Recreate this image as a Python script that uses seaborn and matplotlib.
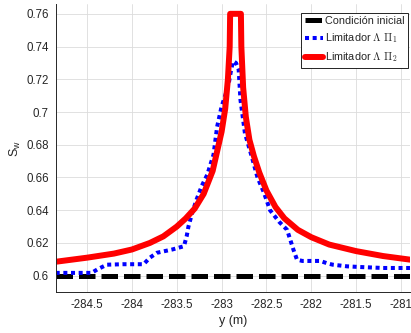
import matplotlib
matplotlib.use("Agg")
import matplotlib.pyplot as plt
import seaborn as sns
import pandas as pd

# ---- data ----
y_init = [-284.85, -280.9]
sw_init = [0.6, 0.6]

y_pi1 = [-284.85, -284.45, -284.38, -284.28, -284.1, -283.87, -283.8, -283.72,
         -283.55, -283.42, -283.39, -283.37, -283.33, -283.28, -283.22, -283.16,
         -283.09, -283.05, -283.0, -282.96, -282.92, -282.89, -282.87, -282.84,
         -282.81, -282.79, -282.74, -282.66, -282.6, -282.53, -282.46, -282.36,
         -282.27, -282.2, -282.16, -282.1, -281.9, -281.82, -281.76, -281.6,
         -281.46, -281.2, -280.9]
sw_pi1 = [0.6017, 0.6017, 0.604, 0.6067, 0.607, 0.607, 0.611, 0.614,
          0.616, 0.618, 0.624, 0.630, 0.638, 0.6464, 0.655, 0.6617,
          0.674, 0.691, 0.7034, 0.710, 0.7177, 0.727, 0.731, 0.730,
          0.726, 0.7075, 0.687, 0.672, 0.660, 0.651, 0.640, 0.633,
          0.628, 0.616, 0.6098, 0.609, 0.609, 0.6075, 0.6067, 0.6057,
          0.6053, 0.6047, 0.6047]

y_pi2 = [-284.85, -284.5, -284.2, -284.0, -283.8, -283.65, -283.5, -283.4,
         -283.3, -283.2, -283.1, -283.05, -283.0, -282.96, -282.93, -282.91,
         -282.905, -282.785, -282.78, -282.76, -282.73, -282.69, -282.64,
         -282.58, -282.5, -282.4, -282.3, -282.15, -282.0, -281.8, -281.5,
         -281.2, -280.9]
sw_pi2 = [0.6085, 0.611, 0.6135, 0.616, 0.620, 0.624, 0.630, 0.635,
          0.641, 0.650, 0.664, 0.676, 0.688, 0.702, 0.720, 0.740,
          0.760, 0.760, 0.740, 0.715, 0.697, 0.683, 0.673,
          0.663, 0.652, 0.642, 0.635, 0.628, 0.6235, 0.619, 0.615,
          0.612, 0.6098]

labels = ["Condición inicial", r"Limitador $\Lambda\ \Pi_1$", r"Limitador $\Lambda\ \Pi_2$"]
x_ticks = [-284.5, -284, -283.5, -283, -282.5, -282, -281.5, -281]
x_ticklabels = ["-284.5", "-284", "-283.5", "-283", "-282.5", "-282", "-281.5", "-281"]
y_ticks = [0.6, 0.62, 0.64, 0.66, 0.68, 0.7, 0.72, 0.74, 0.76]
y_ticklabels = ["0.6", "0.62", "0.64", "0.66", "0.68", "0.7", "0.72", "0.74", "0.76"]

sns.set_style("whitegrid")
plt.rcParams['font.family'] = ['Liberation Sans', 'DejaVu Sans']
plt.rcParams['mathtext.fontset'] = 'cm'

fig = plt.figure(figsize=(4.11, 3.33), dpi=100)
ax = fig.add_axes([0.1355, 0.123, 0.862, 0.865])

df0 = pd.DataFrame({"y": y_init, "sw": sw_init})
df1 = pd.DataFrame({"y": y_pi1, "sw": sw_pi1})
df2 = pd.DataFrame({"y": y_pi2, "sw": sw_pi2})

sns.lineplot(data=df0, x="y", y="sw", ax=ax, color="black", lw=3.6,
             linestyle=(0, (3.3, 1.2)), label=labels[0], estimator=None, sort=False)
sns.lineplot(data=df1, x="y", y="sw", ax=ax, color="blue", lw=2.9,
             linestyle=(0, (1, 0.9)), label=labels[1], estimator=None, sort=False)
sns.lineplot(data=df2, x="y", y="sw", ax=ax, color="red", lw=4.3,
             label=labels[2], estimator=None, sort=False)
for ln in ax.lines:
    ln.set_dash_capstyle("butt")
    ln.set_solid_joinstyle("round")

ax.set_xlim(-284.85, -280.9)
ax.set_ylim(0.590, 0.766)
ax.set_xticks(x_ticks)
ax.set_xticklabels(x_ticklabels)
ax.set_yticks(y_ticks)
ax.set_yticklabels(y_ticklabels)
ax.tick_params(axis='both', labelsize=8.3, colors="#262626", direction='out', length=3, width=0.6, pad=2)
ax.grid(True, color="#dcdcdc", lw=0.6)
for s in ["top", "right"]:
    ax.spines[s].set_visible(False)
for s in ["left", "bottom"]:
    ax.spines[s].set_color("#262626")
    ax.spines[s].set_linewidth(0.7)

ax.set_xlabel("y (m)", fontsize=9, color="#262626", labelpad=3)
ax.set_ylabel(r"S$_\mathregular{w}$", fontsize=9, color="#262626", labelpad=2)

leg = ax.legend(loc="upper right", bbox_to_anchor=(0.995, 0.97), fontsize=7.8,
                frameon=True, fancybox=False, framealpha=1, edgecolor="black",
                handlelength=1.7, handletextpad=0.2, borderpad=0.3,
                labelspacing=0.5, borderaxespad=0)
leg.get_frame().set_linewidth(0.6)

fig.savefig("out.png", dpi=100)
